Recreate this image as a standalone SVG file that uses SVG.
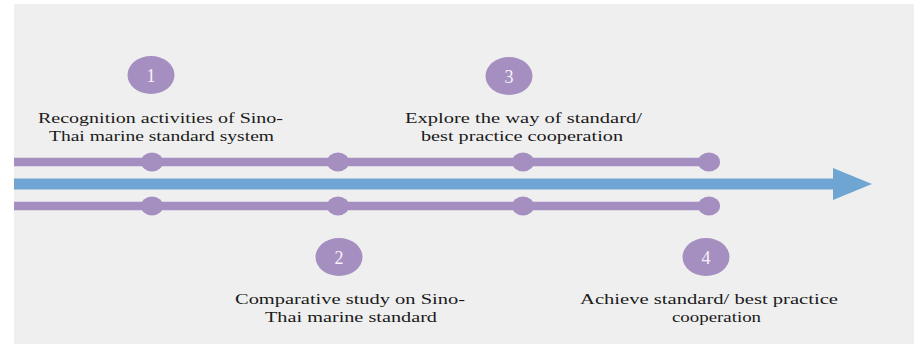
<svg xmlns="http://www.w3.org/2000/svg" width="914" height="344" viewBox="0 0 914 344">
<style>
.bg{fill:#efefef}
.badge{fill:#a58fc0}
.num{font-family:"Liberation Serif","DejaVu Serif","Times New Roman",serif;font-size:18px;fill:#f6f2fa;text-anchor:middle}
.lbl{font-family:"Liberation Serif","DejaVu Serif","Times New Roman",serif;font-size:15.5px;fill:#1a1a1a}
.track{stroke:#a58fc0;stroke-width:8.5;fill:none}
.dot{fill:#a58fc0}
.axis{fill:#6fa5d3}
</style>
<rect x="0" y="0" width="914" height="344" fill="#ffffff"/>
<rect class="bg" x="14" y="4" width="900" height="340"/>
<g id="connectors">
<line class="track" x1="14" y1="162" x2="709" y2="162"/>
<line class="track" x1="14" y1="206" x2="709" y2="206"/>
<ellipse class="dot" cx="152" cy="162" rx="11" ry="9.5"/>
<ellipse class="dot" cx="338" cy="162" rx="11" ry="9.5"/>
<ellipse class="dot" cx="523" cy="162" rx="11" ry="9.5"/>
<ellipse class="dot" cx="709" cy="162" rx="11" ry="9.5"/>
<ellipse class="dot" cx="152" cy="206" rx="11" ry="9.5"/>
<ellipse class="dot" cx="338" cy="206" rx="11" ry="9.5"/>
<ellipse class="dot" cx="523" cy="206" rx="11" ry="9.5"/>
<ellipse class="dot" cx="709" cy="206" rx="11" ry="9.5"/>
<path class="axis" d="M14 178.5 H833 V168 L872 184 L833 200 V189.5 H14 Z"/>
</g>
<g id="node1">
<ellipse class="badge" cx="151" cy="75" rx="23.5" ry="19"/>
<text class="num" x="151" y="81.5">1</text>
<text class="lbl" x="38" y="123" textLength="245" lengthAdjust="spacingAndGlyphs">Recognition activities of Sino-</text>
<text class="lbl" x="49" y="141" textLength="225" lengthAdjust="spacingAndGlyphs">Thai marine standard system</text>
</g>
<g id="node2">
<ellipse class="badge" cx="339" cy="257" rx="23.5" ry="19"/>
<text class="num" x="339" y="263.5">2</text>
<text class="lbl" x="235" y="304" textLength="230" lengthAdjust="spacingAndGlyphs">Comparative study on Sino-</text>
<text class="lbl" x="265" y="322" textLength="172" lengthAdjust="spacingAndGlyphs">Thai marine standard</text>
</g>
<g id="node3">
<ellipse class="badge" cx="509" cy="76" rx="23.5" ry="19"/>
<text class="num" x="509" y="82.5">3</text>
<text class="lbl" x="405" y="123" textLength="237" lengthAdjust="spacingAndGlyphs">Explore the way of standard/</text>
<text class="lbl" x="421" y="141" textLength="202" lengthAdjust="spacingAndGlyphs">best practice cooperation</text>
</g>
<g id="node4">
<ellipse class="badge" cx="706" cy="257" rx="23.5" ry="19"/>
<text class="num" x="706" y="263.5">4</text>
<text class="lbl" x="580" y="304" textLength="258" lengthAdjust="spacingAndGlyphs">Achieve standard/ best practice</text>
<text class="lbl" x="672" y="322" textLength="89" lengthAdjust="spacingAndGlyphs">cooperation</text>
</g>
</svg>
